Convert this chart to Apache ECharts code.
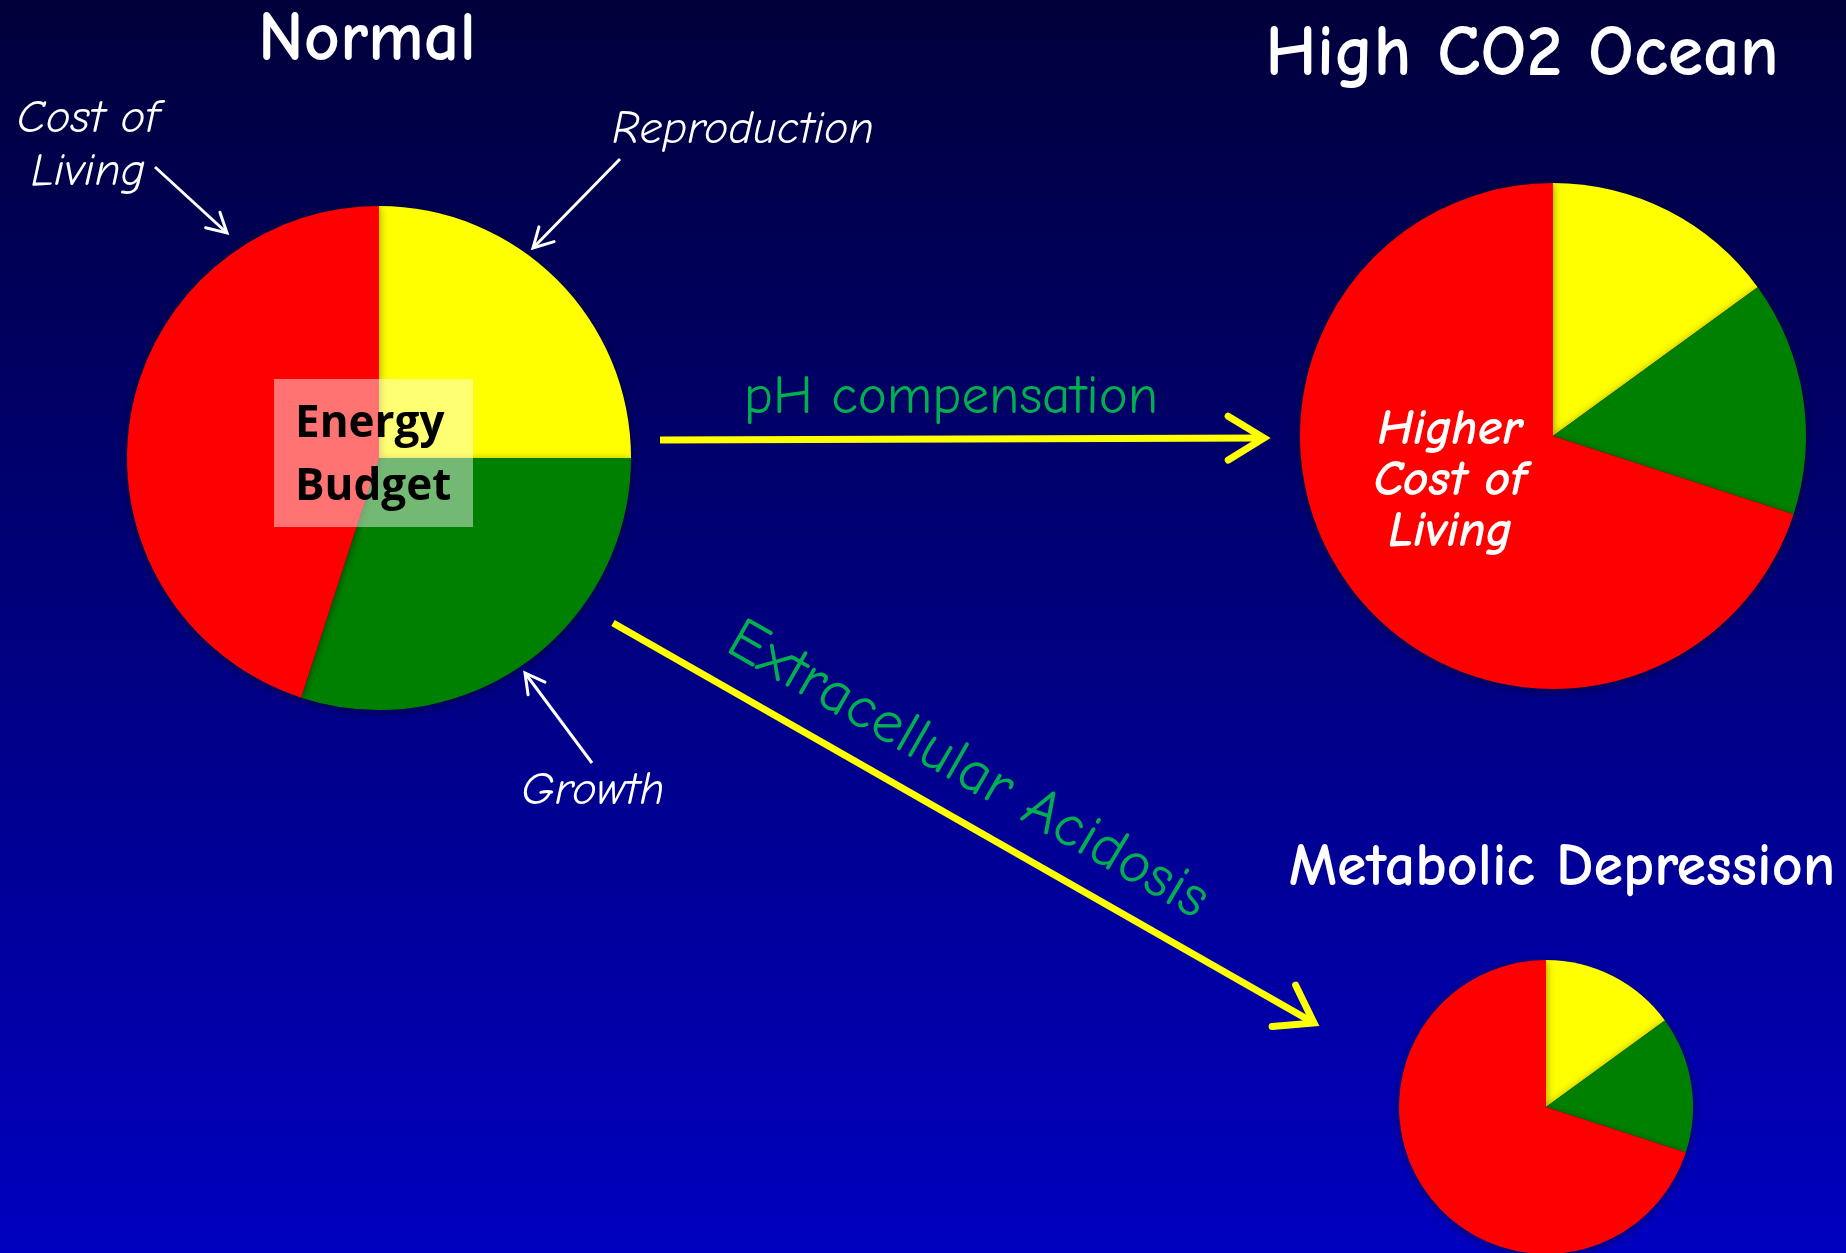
<!DOCTYPE html>
<html>
<head>
<meta charset="utf-8">
<script src="https://cdn.jsdelivr.net/npm/echarts@6/dist/echarts.min.js"></script>
<style>
html,body{margin:0;padding:0;background:#000050;}
#chart{width:1846px;height:1253px;}
</style>
</head>
<body>
<div id="chart"></div>
<script>
// ---- data ----
const sliceNames = ['Reproduction', 'Growth', 'Cost of Living'];
const normalValues = [25, 30, 45];
const highCO2Values = [15, 15, 70];
const depressionValues = [15, 15, 70];
const panelTitles = ['Normal', 'High CO2 Ocean', 'Metabolic Depression'];
const pathwayLabels = ['pH compensation', 'Extracellular Acidosis'];
const calloutLabels = ['Cost of\nLiving', 'Reproduction', 'Growth'];
const centerLabels = ['Energy\nBudget', 'Higher\nCost of\nLiving'];

// ---- styles ----
const sliceColors = ['#ffff00', '#008000', '#ff0000'];
const hand = "'Comic Sans MS','Comic Neue','Open Sans','Noto Sans',sans-serif";
const yellow = '#ffff00';

function pieData(vals) {
  return sliceNames.map((n, i) => ({ name: n, value: vals[i], itemStyle: { color: sliceColors[i] } }));
}
function pieSeries(vals, center, radius) {
  return {
    type: 'pie', center: center, radius: radius, startAngle: 90, clockwise: true,
    silent: true, animation: false,
    label: { show: false }, labelLine: { show: false },
    itemStyle: { borderWidth: 0, shadowBlur: 8, shadowColor: 'rgba(0,0,0,0.45)', shadowOffsetY: 2 },
    emphasis: { disabled: true },
    data: pieData(vals)
  };
}

function arrow(x1, y1, x2, y2, color, width, head, spread) {
  const ang = Math.atan2(y2 - y1, x2 - x1) + Math.PI;
  const a1 = [x2 + head * Math.cos(ang + spread), y2 + head * Math.sin(ang + spread)];
  const a2 = [x2 + head * Math.cos(ang - spread), y2 + head * Math.sin(ang - spread)];
  return [
    { type: 'line', z: 50, shape: { x1: x1, y1: y1, x2: x2, y2: y2 }, style: { stroke: color, lineWidth: width, lineCap: 'butt' } },
    { type: 'polyline', z: 50, shape: { points: [a1, [x2, y2], a2] }, style: { stroke: color, lineWidth: width, fill: null, lineJoin: 'miter', lineCap: 'round' } }
  ];
}

function txt(text, x, y, size, opts) {
  opts = opts || {};
  return {
    type: 'text', z: 100, x: x, y: y, rotation: opts.rotation || 0,
    style: {
      text: text, fill: opts.color || '#ffffff',
      font: (opts.style || 'normal') + ' ' + (opts.weight || 'normal') + ' ' + size + 'px ' + (opts.family || hand),
      textAlign: opts.align || 'center', textVerticalAlign: 'middle',
      lineHeight: opts.lineHeight || Math.round(size * 1.2)
    }
  };
}

const accAngle = Math.atan2(1024 - 623, 1316 - 613);

const graphics = [].concat(
  // titles
  txt(panelTitles[0], 367, 40, 70, { weight: 'bold' }),
  txt(panelTitles[1], 1522, 55, 72, { weight: 'bold' }),
  txt(panelTitles[2], 1562, 868, 60, { weight: 'bold' }),
  // callouts
  txt(calloutLabels[0], 88, 145, 47, { style: 'italic', lineHeight: 53 }),
  txt(calloutLabels[1], 743, 130, 46, { style: 'italic' }),
  txt(calloutLabels[2], 593, 791, 47, { style: 'italic' }),
  arrow(155, 167, 227, 233, '#ffffff', 3, 22, 0.5),
  arrow(620, 159, 533, 248, '#ffffff', 3, 22, 0.5),
  arrow(592, 763, 525, 673, '#ffffff', 3, 22, 0.5),
  // pathways
  arrow(660, 440, 1264, 438, yellow, 7, 42, 0.55),
  arrow(613, 623, 1314, 1023, yellow, 7, 42, 0.6),
  txt(pathwayLabels[0], 951, 397, 55, { color: '#00b050' }),
  txt(pathwayLabels[1], 968, 770, 60, { color: '#00b050', rotation: -accAngle }),
  // energy budget box
  [{ type: 'rect', z: 90, shape: { x: 274, y: 379, width: 199, height: 148 }, style: { fill: 'rgba(255,255,255,0.45)' } }],
  txt(centerLabels[0], 295, 456, 44, { color: '#000000', weight: 'bold', align: 'left', family: "'Open Sans','Noto Sans',sans-serif", lineHeight: 63 }),
  txt(centerLabels[1], 1450, 481, 50, { style: 'italic', weight: 'bold', lineHeight: 51 })
);

const chart = echarts.init(document.getElementById('chart'), null, { renderer: 'canvas' });
chart.setOption({
  animation: false,
  backgroundColor: {
    type: 'linear', x: 0, y: 0, x2: 0, y2: 1,
    colorStops: [{ offset: 0, color: '#00003a' }, { offset: 0.5, color: '#00007e' }, { offset: 1, color: '#0000c0' }]
  },
  series: [
    pieSeries(normalValues, [379, 458], 252),
    pieSeries(highCO2Values, [1553, 436], 253),
    pieSeries(depressionValues, [1546, 1107], 147)
  ],
  graphic: { elements: graphics }
});
</script>
</body>
</html>
